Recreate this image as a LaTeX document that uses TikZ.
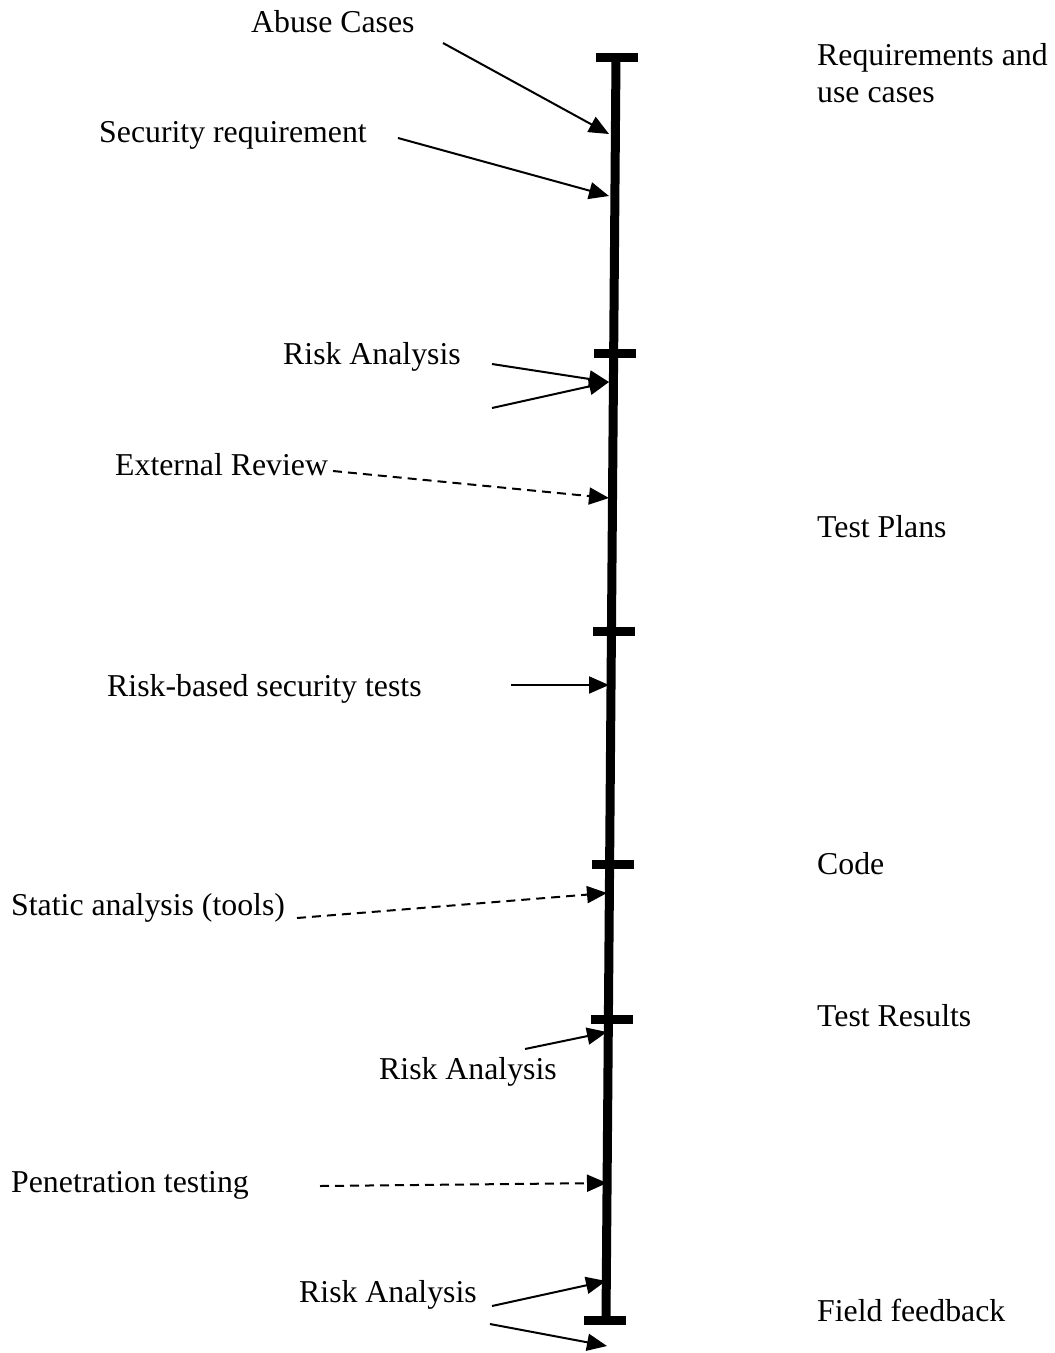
\documentclass[tikz,border=0pt]{standalone}
\usepackage{fontspec}
\setmainfont{Liberation Serif}
\usetikzlibrary{arrows.meta}
\begin{document}
\begin{tikzpicture}[x=1pt,y=-1pt,
  lbl/.style={anchor=base west,inner sep=0pt,font=\fontsize{31.8}{37}\selectfont},
  spine/.style={line width=9pt},
  tick/.style={line width=9pt},
  arr/.style={line width=2pt,-{Triangle[length=20pt,width=17pt]}},
  darr/.style={arr,dash pattern=on 9pt off 6pt}]
\useasboundingbox (0,0) rectangle (1055,1353);
% spine
\coordinate (top) at (616,57);
\coordinate (bot) at (606,1320);
\draw[spine] (top) -- (bot);
% ticks
\coordinate (t1a) at (596,57);   \coordinate (t1b) at (638,57);
\coordinate (t2a) at (594,353);  \coordinate (t2b) at (636,353);
\coordinate (t3a) at (593,631);  \coordinate (t3b) at (635,631);
\coordinate (t4a) at (592,864);  \coordinate (t4b) at (634,864);
\coordinate (t5a) at (591,1019); \coordinate (t5b) at (633,1019);
\coordinate (t6a) at (584,1320); \coordinate (t6b) at (626,1320);
\draw[tick] (t1a) -- (t1b);
\draw[tick] (t2a) -- (t2b);
\draw[tick] (t3a) -- (t3b);
\draw[tick] (t4a) -- (t4b);
\draw[tick] (t5a) -- (t5b);
\draw[tick] (t6a) -- (t6b);
% left labels
\node[lbl] (abuse) at (251,32) {Abuse Cases};
\node[lbl] (secreq) at (99,142) {Security requirement};
\node[lbl] (risk1) at (283,364) {Risk Analysis};
\node[lbl] (extrev) at (115,475) {External Review};
\node[lbl] (rbst) at (107,696) {Risk-based security tests};
\node[lbl] (static) at (11,915) {Static analysis (tools)};
\node[lbl] (risk2) at (379,1079) {Risk Analysis};
\node[lbl] (pen) at (11,1192) {Penetration testing};
\node[lbl] (risk3) at (299,1302) {Risk Analysis};
% right labels
\node[lbl] (req) at (817,65) {Requirements and};
\node[lbl] (req2) at (817,102) {use cases};
\node[lbl] (tplans) at (817,537) {Test Plans};
\node[lbl] (code) at (817,874) {Code};
\node[lbl] (tres) at (817,1026) {Test Results};
\node[lbl] (field) at (817,1321) {Field feedback};
% arrow ends
\coordinate (a1s) at (443,43);   \coordinate (a1e) at (609,134);
\coordinate (a2s) at (398,138);  \coordinate (a2e) at (609,196);
\coordinate (a3s) at (492,364);  \coordinate (a3e) at (609,382);
\coordinate (a4s) at (492,408);
\coordinate (a5s) at (333,471);  \coordinate (a5e) at (609,498);
\coordinate (a6s) at (511,685);  \coordinate (a6e) at (609,685);
\coordinate (a7s) at (297,918);  \coordinate (a7e) at (607,893);
\coordinate (a8s) at (525,1049); \coordinate (a8e) at (607,1032);
\coordinate (a9s) at (320,1186); \coordinate (a9e) at (607,1183);
\coordinate (b1s) at (492,1306); \coordinate (b1e) at (606,1281);
\coordinate (b2s) at (490,1324); \coordinate (b2e) at (607,1346);
\draw[arr] (a1s) -- (a1e);
\draw[arr] (a2s) -- (a2e);
\draw[arr] (a3s) -- (a3e);
\draw[arr] (a4s) -- (a3e);
\draw[darr] (a5s) -- (a5e);
\draw[arr] (a6s) -- (a6e);
\draw[darr] (a7s) -- (a7e);
\draw[arr] (a8s) -- (a8e);
\draw[darr] (a9s) -- (a9e);
\draw[arr] (b1s) -- (b1e);
\draw[arr] (b2s) -- (b2e);
\end{tikzpicture}
\end{document}
